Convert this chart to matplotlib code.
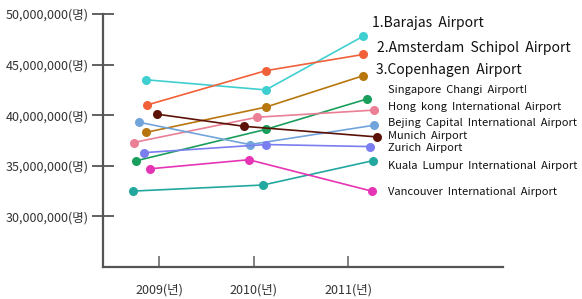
import matplotlib
matplotlib.use("Agg")
import matplotlib.pyplot as plt
from matplotlib.ticker import FuncFormatter

plt.rcParams['font.family'] = ['Noto Sans CJK KR', 'DejaVu Sans']

# airport passenger counts (millions)
airports = ["1.Barajas  Airport", "2.Amsterdam  Schipol  Airport", "3.Copenhagen  Airport",
            "Singapore  Changi  Airport!", "Hong  kong  International  Airport",
            "Bejing  Capital  International  Airport", "Munich  Airport", "Zurich  Airport",
            "Kuala  Lumpur  International  Airport", "Vancouver  International  Airport"]

barajas    = [43.5, 42.5, 47.8]
amsterdam  = [41.0, 44.4, 46.0]
copenhagen = [38.3, 40.8, 43.9]
singapore  = [35.5, 38.6, 41.6]
hongkong   = [37.3, 39.8, 40.5]
beijing    = [39.3, 37.1, 39.0]
munich     = [40.1, 38.9, 37.85]
zurich     = [36.3, 37.1, 36.9]
kuala      = [32.5, 33.1, 35.5]
vancouver  = [34.7, 35.6, 32.5]

# the points are drawn a bit off the year ticks in the original
years_barajas    = [2008.86, 2010.13, 2011.16]
years_amsterdam  = [2008.87, 2010.13, 2011.16]
years_copenhagen = [2008.86, 2010.13, 2011.16]
years_singapore  = [2008.76, 2010.13, 2011.20]
years_hongkong   = [2008.73, 2010.04, 2011.27]
years_beijing    = [2008.79, 2009.96, 2011.27]
years_munich     = [2008.98, 2009.90, 2011.31]
years_zurich     = [2008.84, 2010.13, 2011.23]
years_kuala      = [2008.72, 2010.10, 2011.26]
years_vancouver  = [2008.90, 2009.95, 2011.25]

year_ticks = [2009, 2010, 2011]
year_labels = ["2009(년)", "2010(년)", "2011(년)"]

series = [barajas, amsterdam, copenhagen, singapore, hongkong,
          beijing, munich, zurich, kuala, vancouver]
xs = [years_barajas, years_amsterdam, years_copenhagen, years_singapore, years_hongkong,
      years_beijing, years_munich, years_zurich, years_kuala, years_vancouver]
colors = ["#40cfd0", "#f2603a", "#b8760e", "#1a9e5c", "#ea7f96",
          "#72a4dc", "#5c1206", "#7b7ef0", "#22a89e", "#e535b5"]

# label placement (figure pixels from top-left)
label_pos = [(372, 23), (377, 48), (376, 70), (388, 90), (388, 107),
             (388, 123), (388, 136), (388, 148), (388, 166), (388, 192)]
label_size = [10, 10, 10, 8, 8, 8, 8, 8, 8, 8]

W, H = 582, 299
fig = plt.figure(figsize=(W / 100, H / 100), dpi=100)
ax = fig.add_axes([103 / W, 32 / H, 400 / W, 253 / H])

for x, y, c in zip(xs, series, colors):
    ax.plot(x, [v * 1e6 for v in y], color=c, lw=1.2, marker='o', ms=6.5,
            markeredgewidth=0, zorder=3)

ax.set_xlim(2008.407, 2012.64)
ax.set_ylim(25e6, 50e6)

ax.set_yticks([30e6, 35e6, 40e6, 45e6, 50e6])
ax.yaxis.set_major_formatter(FuncFormatter(lambda v, p: "{:,.0f}(명)".format(v)))
ax.tick_params(axis='y', direction='inout', length=16, width=1.3, color='#555555',
               labelsize=9, labelcolor='#333333', pad=2)

ax.set_xticks(year_ticks)
ax.set_xticklabels(year_labels)
ax.tick_params(axis='x', direction='in', length=8, width=1.3, color='#777777',
               labelsize=9, labelcolor='#333333', pad=12)

for s in ['top', 'right']:
    ax.spines[s].set_visible(False)
for s in ['left', 'bottom']:
    ax.spines[s].set_color('#555555')
    ax.spines[s].set_linewidth(1.6)

for name, (px, py), fs in zip(airports, label_pos, label_size):
    fig.text(px / W, 1 - py / H, name, fontsize=fs, color='#111111', va='center', ha='left')

fig.savefig("out.png", dpi=100)
